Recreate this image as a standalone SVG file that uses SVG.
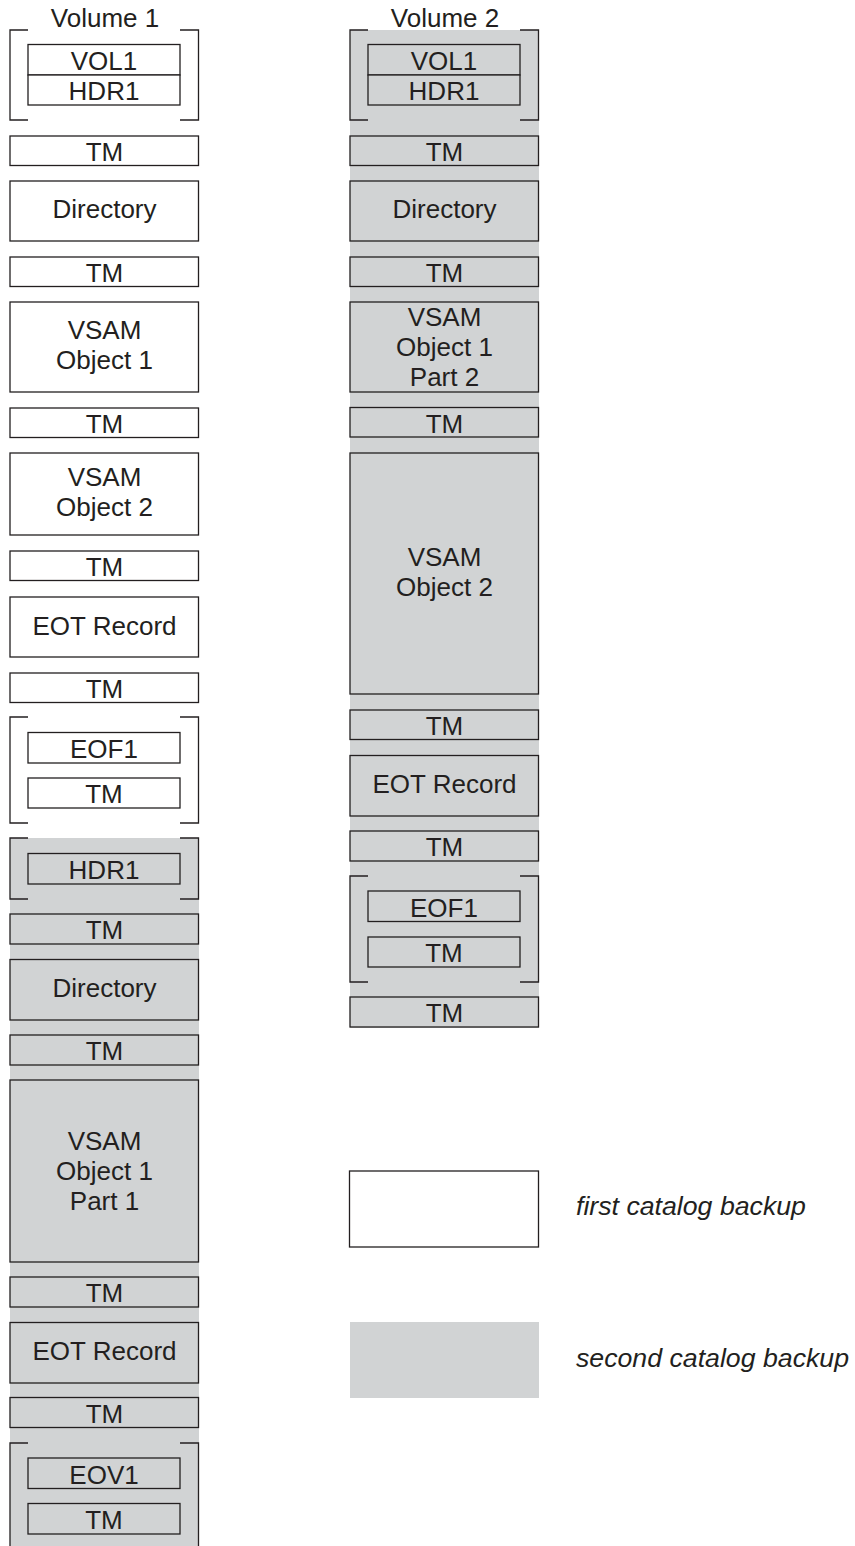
<svg xmlns="http://www.w3.org/2000/svg" width="855" height="1546" viewBox="0 0 855 1546">
<style>
  .w { fill: #ffffff; stroke: #231f20; stroke-width: 1.3; }
  .g { fill: #d1d3d4; stroke: #231f20; stroke-width: 1.3; }
  .bg { fill: #d1d3d4; stroke: none; }
  .br { fill: none; stroke: #231f20; stroke-width: 1.3; }
  text { font-family: "Liberation Sans", Arial, sans-serif; font-size: 26px; fill: #231f20; text-anchor: middle; }
  .leg { font-style: italic; text-anchor: start; font-size: 26.7px; }
</style>
<rect width="855" height="1546" fill="#ffffff"/>

<!-- gray backgrounds (second catalog backup) -->
<g id="backgrounds">
  <rect class="bg" x="10" y="838" width="189" height="708"/>
  <rect class="bg" x="350" y="30" width="189" height="998"/>
</g>

<!-- Volume 1 -->
<g id="vol1-label"><text x="105" y="27">Volume 1</text></g>
<g id="v1-label-group">
  <path class="br" d="M28,30 H10 V120 H28 M180,30 H198.5 V120 H180"/>
  <rect class="w" x="28" y="44.5" width="152" height="30.5"/>
  <text x="104" y="70">VOL1</text>
  <rect class="w" x="28" y="75" width="152" height="30"/>
  <text x="104" y="100">HDR1</text>
</g>
<g id="v1-tm1"><rect class="w" x="10" y="136" width="188.5" height="29.5"/><text x="104.5" y="161">TM</text></g>
<g id="v1-dir1"><rect class="w" x="10" y="181" width="188.5" height="60"/><text x="104.5" y="218">Directory</text></g>
<g id="v1-tm2"><rect class="w" x="10" y="257" width="188.5" height="29.5"/><text x="104.5" y="282">TM</text></g>
<g id="v1-vsam1"><rect class="w" x="10" y="302" width="188.5" height="90"/><text x="104.5" y="339">VSAM</text><text x="104.5" y="369">Object 1</text></g>
<g id="v1-tm3"><rect class="w" x="10" y="408" width="188.5" height="29.5"/><text x="104.5" y="433">TM</text></g>
<g id="v1-vsam2"><rect class="w" x="10" y="453" width="188.5" height="82"/><text x="104.5" y="486">VSAM</text><text x="104.5" y="516">Object 2</text></g>
<g id="v1-tm4"><rect class="w" x="10" y="551" width="188.5" height="29.5"/><text x="104.5" y="576">TM</text></g>
<g id="v1-eot1"><rect class="w" x="10" y="597" width="188.5" height="60"/><text x="104.5" y="635">EOT Record</text></g>
<g id="v1-tm5"><rect class="w" x="10" y="673" width="188.5" height="29.5"/><text x="104.5" y="698">TM</text></g>
<g id="v1-trailer1">
  <path class="br" d="M28,717 H10 V823 H28 M180,717 H198.5 V823 H180"/>
  <rect class="w" x="28" y="732.5" width="152" height="30.5"/>
  <text x="104" y="758">EOF1</text>
  <rect class="w" x="28" y="778" width="152" height="30"/>
  <text x="104" y="803">TM</text>
</g>
<g id="v1-header2">
  <path class="br" d="M28,838 H10 V899 H28 M180,838 H198.5 V899 H180"/>
  <rect class="g" x="28" y="853.5" width="152" height="30.5"/>
  <text x="104" y="879">HDR1</text>
</g>
<g id="v1-tm6"><rect class="g" x="10" y="914" width="188.5" height="30"/><text x="104.5" y="939">TM</text></g>
<g id="v1-dir2"><rect class="g" x="10" y="959.5" width="188.5" height="60.5"/><text x="104.5" y="997">Directory</text></g>
<g id="v1-tm7"><rect class="g" x="10" y="1035" width="188.5" height="30"/><text x="104.5" y="1060">TM</text></g>
<g id="v1-vsam1p1"><rect class="g" x="10" y="1080" width="188.5" height="182"/><text x="104.5" y="1150">VSAM</text><text x="104.5" y="1180">Object 1</text><text x="104.5" y="1210">Part 1</text></g>
<g id="v1-tm8"><rect class="g" x="10" y="1277" width="188.5" height="30"/><text x="104.5" y="1302">TM</text></g>
<g id="v1-eot2"><rect class="g" x="10" y="1322.5" width="188.5" height="60.5"/><text x="104.5" y="1360">EOT Record</text></g>
<g id="v1-tm9"><rect class="g" x="10" y="1397.5" width="188.5" height="30"/><text x="104.5" y="1423">TM</text></g>
<g id="v1-trailer2">
  <path class="br" d="M28,1443 H10 V1546 M180,1443 H198.5 V1546"/>
  <rect class="g" x="28" y="1458" width="152" height="30.5"/>
  <text x="104" y="1484">EOV1</text>
  <rect class="g" x="28" y="1503.5" width="152" height="30.5"/>
  <text x="104" y="1529">TM</text>
</g>

<!-- Volume 2 -->
<g id="vol2-label"><text x="445" y="27">Volume 2</text></g>
<g id="v2-label-group">
  <path class="br" d="M368,30 H350 V120 H368 M520,30 H538.5 V120 H520"/>
  <rect class="g" x="368" y="44.5" width="152" height="30.5"/>
  <text x="444" y="70">VOL1</text>
  <rect class="g" x="368" y="75" width="152" height="30"/>
  <text x="444" y="100">HDR1</text>
</g>
<g id="v2-tm1"><rect class="g" x="350" y="136" width="188.5" height="29.5"/><text x="444.5" y="161">TM</text></g>
<g id="v2-dir"><rect class="g" x="350" y="181" width="188.5" height="60"/><text x="444.5" y="218">Directory</text></g>
<g id="v2-tm2"><rect class="g" x="350" y="257" width="188.5" height="29.5"/><text x="444.5" y="282">TM</text></g>
<g id="v2-vsam1p2"><rect class="g" x="350" y="302" width="188.5" height="90"/><text x="444.5" y="326">VSAM</text><text x="444.5" y="356">Object 1</text><text x="444.5" y="386">Part 2</text></g>
<g id="v2-tm3"><rect class="g" x="350" y="407.5" width="188.5" height="29.5"/><text x="444.5" y="432.5">TM</text></g>
<g id="v2-vsam2"><rect class="g" x="350" y="453" width="188.5" height="241"/><text x="444.5" y="566">VSAM</text><text x="444.5" y="596">Object 2</text></g>
<g id="v2-tm4"><rect class="g" x="350" y="710" width="188.5" height="29.5"/><text x="444.5" y="735">TM</text></g>
<g id="v2-eot"><rect class="g" x="350" y="755.5" width="188.5" height="60.5"/><text x="444.5" y="793">EOT Record</text></g>
<g id="v2-tm5"><rect class="g" x="350" y="831" width="188.5" height="30"/><text x="444.5" y="856">TM</text></g>
<g id="v2-trailer">
  <path class="br" d="M368,876 H350 V982 H368 M520,876 H538.5 V982 H520"/>
  <rect class="g" x="368" y="891" width="152" height="30.5"/>
  <text x="444" y="917">EOF1</text>
  <rect class="g" x="368" y="937" width="152" height="30"/>
  <text x="444" y="962">TM</text>
</g>
<g id="v2-tm6"><rect class="g" x="350" y="997" width="188.5" height="30"/><text x="444.5" y="1022">TM</text></g>

<!-- Legend -->
<g id="legend-first">
  <rect class="w" x="349.5" y="1171" width="189" height="76"/>
  <text class="leg" x="576" y="1215">first catalog backup</text>
</g>
<g id="legend-second">
  <rect class="bg" x="350" y="1322" width="189" height="76"/>
  <text class="leg" x="576" y="1367">second catalog backup</text>
</g>
<g id="connectors"/>
</svg>
